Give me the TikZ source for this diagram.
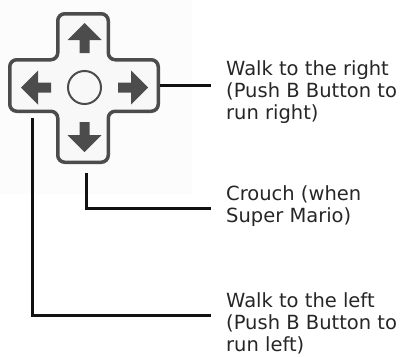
\documentclass[tikz,border=0pt]{standalone}
\usepackage{fontspec}
\setmainfont{DejaVu Sans}
\definecolor{bgpanel}{HTML}{FCFCFC}
\definecolor{padfill}{HTML}{F8F8F8}
\definecolor{padedge}{HTML}{4C4C4C}
\definecolor{linecol}{HTML}{111111}
\definecolor{textcol}{HTML}{262626}
\tikzset{
  padbody/.style={draw=padedge, fill=padfill, line width=3.5pt, rounded corners=7pt},
  padarrow/.style={fill=padedge},
  padring/.style={draw=padedge, line width=2pt},
  leader/.style={draw=linecol, line width=3pt},
  label/.style={anchor=base west, align=left, inner xsep=15pt, inner ysep=0pt,
    text=textcol, font=\fontsize{19.5}{22}\selectfont}
}
\begin{document}
\begin{tikzpicture}[x=1pt,y=-1pt]
\useasboundingbox (0,0) rectangle (401,356);
\fill[bgpanel] (0,0) rectangle (192,194);
% cross
\path[padbody] (57.75,13.75) -- (108.25,13.75) -- (108.25,59.75) -- (158.25,59.75)
  -- (158.25,111.25) -- (108.25,111.25) -- (108.25,162.25) -- (57.75,162.25)
  -- (57.75,111.25) -- (9.75,111.25) -- (9.75,59.75) -- (57.75,59.75) -- cycle;
% arrows
\fill[padarrow] (21,87.5) -- (38,70.5) -- (38,82.5) -- (51,82.5) -- (51,92.5) -- (38,92.5) -- (38,104.5) -- cycle;
\fill[padarrow] (148,87.5) -- (131,70.5) -- (131,82.5) -- (118,82.5) -- (118,92.5) -- (131,92.5) -- (131,104.5) -- cycle;
\fill[padarrow] (84.5,23) -- (67.5,40) -- (79.5,40) -- (79.5,53) -- (89.5,53) -- (89.5,40) -- (101.5,40) -- cycle;
\fill[padarrow] (84.5,152) -- (67.5,135) -- (79.5,135) -- (79.5,122) -- (89.5,122) -- (89.5,135) -- (101.5,135) -- cycle;
\draw[padring] (84.5,87.5) circle[radius=16.5];
% attachment points
\coordinate (pR) at (160,85);
\coordinate (pD) at (86,173);
\coordinate (pL) at (32,118);
% labels (base = baseline of last line)
\node[label] (tR) at (211,119.7) {Walk to the right\\(Push B Button to\\run right)};
\node[label] (tC) at (211,222.7) {Crouch (when\\Super Mario)};
\node[label] (tL) at (211,351.7) {Walk to the left\\(Push B Button to\\run left)};
% leaders
\draw[leader] (pR) -- (pR -| tR.west);
\draw[leader] (pD) |- ([yshift=14pt]tC.base west);
\draw[leader] (pL) |- ([yshift=36.7pt]tL.base west);
\end{tikzpicture}
\end{document}
